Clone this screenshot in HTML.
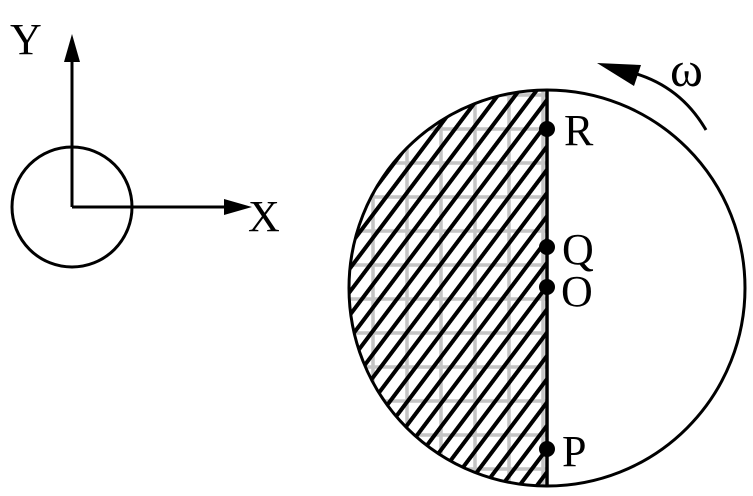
<html><body style="margin:0;background:#fff">
<svg width="753" height="496" xmlns="http://www.w3.org/2000/svg">
<defs>
<clipPath id="c"><path d="M547,90 A198,198 0 0 0 547,486 Z"/></clipPath>
<pattern id="g" width="34" height="34" patternUnits="userSpaceOnUse" x="356" y="146">
<path d="M17,0V34M0,17H34" stroke="#c4c4c4" stroke-width="3.5" fill="none"/></pattern>
<pattern id="h" width="14" height="14" patternUnits="userSpaceOnUse" patternTransform="rotate(37)">
<path d="M7,0V14" stroke="#000" stroke-width="4"/></pattern>
</defs>
<g clip-path="url(#c)">
<rect x="340" y="85" width="210" height="410" fill="url(#g)"/>
<rect x="340" y="85" width="210" height="410" fill="url(#h)"/>
</g>
<circle cx="547" cy="288" r="198" fill="none" stroke="#000" stroke-width="3"/>
<line x1="547" y1="90" x2="547" y2="486" stroke="#000" stroke-width="3.5"/>
<g fill="#000">
<circle cx="547" cy="129" r="8"/><circle cx="547" cy="247" r="8"/>
<circle cx="547" cy="287" r="8"/><circle cx="547" cy="449" r="8"/>
</g>
<g font-family="Liberation Serif, serif" font-size="44" fill="#000">
<text x="564" y="145">R</text><text x="562" y="264">Q</text>
<text x="561" y="306">O</text><text x="562" y="466">P</text>
<text x="670" y="86" font-size="50">ω</text>
<text x="10" y="54">Y</text><text x="248" y="231">X</text>
</g>
<path d="M706,130 Q680,85 630,72" fill="none" stroke="#000" stroke-width="3"/>
<path d="M597,63 L641,65 L634,86 Z" fill="#000"/>
<circle cx="72" cy="207" r="60" fill="none" stroke="#000" stroke-width="3"/>
<line x1="72" y1="207" x2="72" y2="58" stroke="#000" stroke-width="3"/>
<path d="M72,34 L64,62 L80,62 Z" fill="#000"/>
<line x1="72" y1="207" x2="228" y2="207" stroke="#000" stroke-width="3"/>
<path d="M252,207 L224,199 L224,215 Z" fill="#000"/>
</svg>
</body></html>
